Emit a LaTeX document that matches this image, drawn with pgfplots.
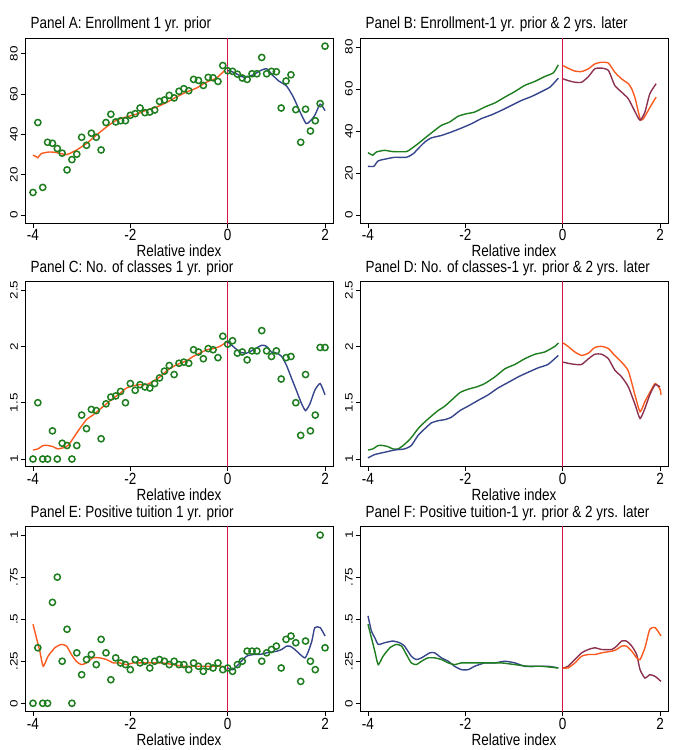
\documentclass[border=0pt]{standalone}
\usepackage{fontspec}
\setmainfont{Liberation Sans}
\usepackage{graphicx}
\usepackage{pgfplots}
\pgfplotsset{compat=1.18}
\usepackage{pgfplotstable}

\definecolor{scgreen}{RGB}{30,125,30}
\definecolor{scorange}{RGB}{250,90,30}
\definecolor{scnavy}{RGB}{55,70,140}
\definecolor{scmaroon}{RGB}{140,50,80}
\definecolor{cutline}{RGB}{215,20,70}

\newcommand{\lbl}{\fontsize{13.5}{16}\selectfont}
% Stata-like tall, narrow lettering
\newcommand{\hs}[1]{\scalebox{1}[1.2]{#1}}
\newcommand{\vs}[1]{\scalebox{1}[0.8]{#1}}

% ---------- binned means (circles) ----------
\pgfplotstableread{
x y
-4.0 11.2
-3.9 45.9
-3.8 13.7
-3.7 36.1
-3.6 35.6
-3.5 33.0
-3.4 30.7
-3.3 22.4
-3.2 27.5
-3.1 30.2
-3.0 38.6
-2.9 34.6
-2.8 40.6
-2.7 38.6
-2.6 32.3
-2.5 45.9
-2.4 50.0
-2.3 46.2
-2.2 46.8
-2.1 46.8
-2.0 49.5
-1.9 50.3
-1.8 53.1
-1.7 50.8
-1.6 51.1
-1.5 52.1
-1.4 56.4
-1.3 57.1
-1.2 59.4
-1.1 58.1
-1.0 61.4
-0.9 62.7
-0.8 61.7
-0.7 67.3
-0.6 66.8
-0.5 64.3
-0.4 68.3
-0.3 68.1
-0.2 66.3
-0.1 74.2
0.0 71.6
0.1 71.3
0.2 69.9
0.3 68.0
0.4 67.3
0.5 70.1
0.6 70.1
0.7 78.2
0.8 70.1
0.9 71.3
1.0 71.1
1.1 53.1
1.2 66.5
1.3 69.6
1.4 52.3
1.5 36.1
1.6 52.5
1.7 41.7
1.8 46.8
1.9 55.3
2.0 83.8
}\enrollpts

\pgfplotstableread{
x y
-4.0 1.00
-3.9 1.50
-3.8 1.00
-3.7 1.00
-3.6 1.25
-3.5 1.00
-3.4 1.14
-3.3 1.12
-3.2 1.00
-3.1 1.12
-3.0 1.39
-2.9 1.27
-2.8 1.44
-2.7 1.43
-2.6 1.18
-2.5 1.49
-2.4 1.55
-2.3 1.56
-2.2 1.60
-2.1 1.50
-2.0 1.67
-1.9 1.61
-1.8 1.66
-1.7 1.64
-1.6 1.63
-1.5 1.67
-1.4 1.72
-1.3 1.78
-1.2 1.83
-1.1 1.75
-1.0 1.85
-0.9 1.86
-0.8 1.85
-0.7 1.97
-0.6 1.95
-0.5 1.89
-0.4 1.98
-0.3 1.97
-0.2 1.90
-0.1 2.09
0.0 2.02
0.1 2.05
0.2 1.94
0.3 1.95
0.4 1.88
0.5 1.96
0.6 1.96
0.7 2.14
0.8 1.96
0.9 1.91
1.0 1.96
1.1 1.71
1.2 1.90
1.3 1.91
1.4 1.50
1.5 1.21
1.6 1.75
1.7 1.25
1.8 1.39
1.9 1.99
2.0 1.99
}\classpts

\pgfplotstableread{
x y
-4.0 0.00
-3.9 0.33
-3.8 0.00
-3.7 0.00
-3.6 0.60
-3.5 0.75
-3.4 0.25
-3.3 0.44
-3.2 0.00
-3.1 0.30
-3.0 0.17
-2.9 0.26
-2.8 0.29
-2.7 0.23
-2.6 0.38
-2.5 0.30
-2.4 0.14
-2.3 0.27
-2.2 0.24
-2.1 0.23
-2.0 0.20
-1.9 0.26
-1.8 0.24
-1.7 0.25
-1.6 0.21
-1.5 0.25
-1.4 0.26
-1.3 0.25
-1.2 0.23
-1.1 0.25
-1.0 0.23
-0.9 0.23
-0.8 0.20
-0.7 0.24
-0.6 0.22
-0.5 0.19
-0.4 0.22
-0.3 0.21
-0.2 0.24
-0.1 0.20
0.0 0.21
0.1 0.19
0.2 0.23
0.3 0.25
0.4 0.31
0.5 0.31
0.6 0.31
0.7 0.25
0.8 0.30
0.9 0.32
1.0 0.34
1.1 0.21
1.2 0.38
1.3 0.40
1.4 0.36
1.5 0.13
1.6 0.37
1.7 0.25
1.8 0.20
1.9 1.00
2.0 0.33
}\tuitpts

\pgfplotsset{
  panel/.style={
    scale only axis, width=308pt, height=185pt,
    xmin=-4.164, xmax=2.164,
    xtick={-4,-2,0,2}, xticklabels={\hs{-4},\hs{-2},\hs{0},\hs{2}},
    tick align=outside, xtick pos=left, ytick pos=left,
    major tick length=4.5pt,
    axis line style={black, line width=0.9pt},
    tick style={black, line width=0.8pt},
    every tick label/.append style={font=\lbl},
    xticklabel style={inner sep=1.5pt},
    yticklabel style={rotate=90, anchor=south, inner sep=2.5pt},
    xlabel={\hs{Relative index}},
    xlabel style={font=\lbl, yshift=1pt},
    title style={font=\lbl, at={(0,1)}, anchor=base west, xshift=2pt, yshift=3.5pt},
    clip=true,
  },
  pts/.style={only marks, mark=o, mark size=3.1pt, scgreen,
    mark options={line width=1.5pt}},
  fit/.style={no marks, line width=1.4pt, smooth, tension=0.35},
  cut/.style={no marks, cutline, line width=1.3pt},
  enrollax/.style={ymin=-4.1, ymax=87.7, ytick={0,20,40,60,80},
    yticklabels={\vs{0},\vs{20},\vs{40},\vs{60},\vs{80}}},
  enrollaxB/.style={ymin=-3.9, ymax=84.1, ytick={0,20,40,60,80},
    yticklabels={\vs{0},\vs{20},\vs{40},\vs{60},\vs{80}}},
  classax/.style={ymin=0.932, ymax=2.574, ytick={1,1.5,2,2.5},
    yticklabels={\vs{1},\vs{1.5},\vs{2},\vs{2.5}}},
  tuitax/.style={ymin=-0.05, ymax=1.05, ytick={0,0.25,0.5,0.75,1},
    yticklabels={\vs{0},\vs{.25},\vs{.5},\vs{.75},\vs{1}}},
}

\begin{document}
\begin{tikzpicture}
\useasboundingbox (0,0) rectangle (673pt,750pt);

% ===== Panel A =====
\begin{axis}[panel, enrollax, at={(25pt,526.7pt)}, anchor=south west,
  title={\hs{Panel A: Enrollment 1 yr. prior}}]
\addplot[cut] coordinates {(0,-10) (0,100)};
\addplot[pts] table {\enrollpts};
\addplot[fit, scorange] coordinates {
(-4.00,29.7) (-3.93,28.9) (-3.90,28.4) (-3.83,30.5) (-3.66,31.3) (-3.52,31.0)
(-3.31,30.0) (-3.11,32.2) (-2.90,35.5) (-2.70,39.6) (-2.49,43.7) (-2.29,47.0)
(-2.08,48.7) (-1.87,50.1) (-1.67,52.0) (-1.46,53.6) (-1.26,55.8) (-1.05,58.6)
(-0.85,61.0) (-0.64,63.0) (-0.43,66.0) (-0.23,68.0) (-0.06,71.8)};
\addplot[fit, scnavy] coordinates {
(0.00,71.8) (0.11,70.9) (0.25,69.2) (0.35,68.3) (0.53,69.6) (0.66,71.5)
(0.80,72.6) (0.92,69.5) (1.05,66.5) (1.21,64.0) (1.35,58.5) (1.49,51.0)
(1.61,45.4) (1.69,46.5) (1.79,49.5) (1.90,55.0) (2.00,51.8)};
\end{axis}

% ===== Panel B =====
\begin{axis}[panel, enrollaxB, at={(360pt,526.7pt)}, anchor=south west,
  title={\hs{Panel B: Enrollment-1 yr. prior \& 2 yrs. later}}]
\addplot[cut] coordinates {(0,-10) (0,100)};
\addplot[fit, scgreen] coordinates {
(-4.00,29.7) (-3.90,28.5) (-3.83,30.0) (-3.66,30.8) (-3.49,30.2) (-3.21,30.2)
(-3.11,31.6) (-2.97,34.0) (-2.80,37.2) (-2.63,40.3) (-2.49,42.7) (-2.32,44.3)
(-2.15,47.0) (-1.98,48.2) (-1.81,49.0) (-1.60,51.4) (-1.39,53.4) (-1.19,56.1)
(-0.98,58.8) (-0.78,61.7) (-0.57,63.6) (-0.37,65.9) (-0.19,67.7) (-0.09,71.5)};
\addplot[fit, scnavy] coordinates {
(-4.00,23.2) (-3.88,23.2) (-3.79,25.8) (-3.59,26.9) (-3.45,27.5) (-3.21,27.5)
(-3.07,29.2) (-2.97,31.6) (-2.83,34.8) (-2.70,36.7) (-2.49,37.9) (-2.29,39.5)
(-2.08,41.4) (-1.87,43.5) (-1.67,45.9) (-1.46,47.7) (-1.26,49.8) (-1.05,52.2)
(-0.85,54.5) (-0.64,56.4) (-0.43,58.8) (-0.26,60.9) (-0.09,65.1)};
\addplot[fit, scorange] coordinates {
(0.01,71.1) (0.11,69.9) (0.25,68.5) (0.39,68.3) (0.53,69.6) (0.66,71.9)
(0.80,72.7) (0.94,72.3) (1.07,68.0) (1.21,64.8) (1.35,62.5) (1.42,60.0)
(1.49,55.5) (1.55,49.5) (1.60,45.3) (1.66,45.9) (1.75,49.5) (1.85,53.5) (1.92,56.1)};
\addplot[fit, scmaroon] coordinates {
(0.01,64.8) (0.11,64.0) (0.25,63.2) (0.39,63.2) (0.53,65.9) (0.66,69.6)
(0.80,69.9) (0.94,68.8) (1.07,61.7) (1.21,58.5) (1.35,55.3) (1.49,49.0)
(1.59,45.1) (1.69,49.0) (1.79,57.7) (1.92,62.5)};
\end{axis}

% ===== Panel C =====
\begin{axis}[panel, classax, at={(25pt,283.3pt)}, anchor=south west,
  title={\hs{Panel C: No. of classes 1 yr. prior}}]
\addplot[cut] coordinates {(0,0) (0,3)};
\addplot[pts] table {\classpts};
\addplot[fit, scorange] coordinates {
(-4.00,1.08) (-3.90,1.09) (-3.79,1.12) (-3.69,1.12) (-3.59,1.11) (-3.49,1.09)
(-3.38,1.10) (-3.28,1.12) (-3.18,1.18) (-3.04,1.27) (-2.90,1.35) (-2.77,1.39)
(-2.63,1.44) (-2.49,1.49) (-2.35,1.54) (-2.22,1.58) (-2.08,1.63) (-1.94,1.65)
(-1.81,1.66) (-1.67,1.66) (-1.53,1.69) (-1.39,1.73) (-1.26,1.78) (-1.12,1.82)
(-0.98,1.85) (-0.85,1.87) (-0.71,1.91) (-0.57,1.94) (-0.43,1.97) (-0.30,1.98)
(-0.16,2.00) (-0.02,2.04)};
\addplot[fit, scnavy] coordinates {
(0.00,2.04) (0.11,2.00) (0.25,1.95) (0.39,1.94) (0.53,1.97) (0.70,2.01)
(0.80,2.00) (0.90,1.95) (1.01,1.94) (1.11,1.91) (1.21,1.83) (1.31,1.72)
(1.42,1.60) (1.52,1.49) (1.60,1.43) (1.69,1.49) (1.79,1.61) (1.90,1.67) (2.00,1.57)};
\end{axis}

% ===== Panel D =====
\begin{axis}[panel, classax, at={(360pt,283.3pt)}, anchor=south west,
  title={\hs{Panel D: No. of classes-1 yr. prior \& 2 yrs. later}}]
\addplot[cut] coordinates {(0,0) (0,3)};
\addplot[fit, scgreen] coordinates {
(-4.00,1.08) (-3.90,1.09) (-3.79,1.12) (-3.69,1.12) (-3.59,1.11) (-3.49,1.09)
(-3.38,1.09) (-3.25,1.13) (-3.11,1.19) (-2.97,1.27) (-2.83,1.33) (-2.70,1.38)
(-2.56,1.43) (-2.42,1.47) (-2.29,1.52) (-2.11,1.59) (-1.94,1.62) (-1.77,1.64)
(-1.60,1.67) (-1.39,1.73) (-1.19,1.80) (-0.98,1.84) (-0.78,1.89) (-0.57,1.93)
(-0.37,1.95) (-0.16,2.00) (-0.09,2.03)};
\addplot[fit, scnavy] coordinates {
(-4.00,1.01) (-3.86,1.04) (-3.66,1.06) (-3.45,1.08) (-3.25,1.09) (-3.11,1.12)
(-2.97,1.21) (-2.83,1.27) (-2.70,1.32) (-2.56,1.34) (-2.42,1.35) (-2.29,1.37)
(-2.11,1.43) (-1.94,1.47) (-1.74,1.52) (-1.53,1.57) (-1.33,1.63) (-1.12,1.68)
(-0.91,1.73) (-0.71,1.77) (-0.50,1.81) (-0.30,1.84) (-0.09,1.92)};
\addplot[fit, scorange] coordinates {
(0.01,2.03) (0.11,2.00) (0.25,1.95) (0.39,1.92) (0.53,1.94) (0.66,1.99)
(0.80,2.00) (0.94,1.98) (1.07,1.92) (1.21,1.86) (1.35,1.78) (1.49,1.56)
(1.59,1.42) (1.69,1.51) (1.79,1.59) (1.90,1.67) (2.00,1.62) (2.02,1.57)};
\addplot[fit, scmaroon] coordinates {
(0.01,1.86) (0.11,1.85) (0.25,1.84) (0.39,1.84) (0.53,1.89) (0.66,1.93)
(0.80,1.93) (0.94,1.89) (1.07,1.79) (1.21,1.73) (1.35,1.64) (1.49,1.48)
(1.59,1.36) (1.69,1.45) (1.79,1.57) (1.90,1.66) (2.00,1.64)};
\end{axis}

% ===== Panel E =====
\begin{axis}[panel, tuitax, at={(25pt,38.3pt)}, anchor=south west,
  title={\hs{Panel E: Positive tuition 1 yr. prior}}]
\addplot[cut] coordinates {(0,-1) (0,2)};
\addplot[pts] table {\tuitpts};
\addplot[fit, scorange] coordinates {
(-4.00,0.47) (-3.93,0.39) (-3.86,0.31) (-3.79,0.22) (-3.69,0.28) (-3.55,0.33)
(-3.42,0.35) (-3.31,0.34) (-3.21,0.29) (-3.11,0.25) (-3.01,0.23) (-2.90,0.24)
(-2.77,0.27) (-2.63,0.27) (-2.49,0.26) (-2.35,0.24) (-2.22,0.24) (-2.08,0.23)
(-1.94,0.24) (-1.74,0.24) (-1.53,0.24) (-1.33,0.24) (-1.12,0.23) (-0.91,0.22)
(-0.71,0.22) (-0.50,0.22) (-0.30,0.22) (-0.09,0.22)};
\addplot[fit, scnavy] coordinates {
(0.00,0.21) (0.11,0.20) (0.25,0.24) (0.39,0.28) (0.53,0.29) (0.66,0.29)
(0.80,0.30) (1.01,0.31) (1.11,0.32) (1.21,0.34) (1.28,0.34) (1.38,0.32)
(1.49,0.29) (1.59,0.27) (1.66,0.31) (1.73,0.37) (1.79,0.45) (1.90,0.45) (2.00,0.40)};
\end{axis}

% ===== Panel F =====
\begin{axis}[panel, tuitax, at={(360pt,38.3pt)}, anchor=south west,
  title={\hs{Panel F: Positive tuition-1 yr. prior \& 2 yrs. later}}]
\addplot[cut] coordinates {(0,-1) (0,2)};
\addplot[fit, scnavy] coordinates {
(-4.00,0.52) (-3.93,0.43) (-3.86,0.39) (-3.79,0.35) (-3.66,0.36) (-3.49,0.37)
(-3.35,0.36) (-3.25,0.34) (-3.11,0.28) (-3.01,0.26) (-2.90,0.27) (-2.73,0.30)
(-2.63,0.30) (-2.49,0.27) (-2.35,0.25) (-2.22,0.22) (-2.08,0.20) (-1.94,0.20)
(-1.81,0.22) (-1.60,0.24) (-1.39,0.24) (-1.19,0.25) (-0.98,0.24) (-0.78,0.22)
(-0.57,0.22) (-0.30,0.22) (-0.09,0.21)};
\addplot[fit, scgreen] coordinates {
(-4.00,0.47) (-3.93,0.39) (-3.86,0.31) (-3.79,0.23) (-3.69,0.28) (-3.55,0.33)
(-3.42,0.35) (-3.31,0.34) (-3.21,0.29) (-3.11,0.24) (-3.01,0.23) (-2.90,0.25)
(-2.77,0.27) (-2.63,0.27) (-2.49,0.26) (-2.35,0.24) (-2.22,0.23) (-2.08,0.24)
(-1.81,0.24) (-1.53,0.24) (-1.26,0.24) (-0.98,0.23) (-0.71,0.22) (-0.43,0.22)
(-0.09,0.21)};
\addplot[fit, scmaroon] coordinates {
(0.01,0.21) (0.11,0.22) (0.25,0.26) (0.39,0.30) (0.53,0.32) (0.66,0.33)
(0.80,0.32) (1.01,0.32) (1.11,0.34) (1.21,0.37) (1.31,0.37) (1.42,0.34)
(1.52,0.29) (1.59,0.20) (1.69,0.15) (1.79,0.17) (1.90,0.16) (2.02,0.13)};
\addplot[fit, scorange] coordinates {
(0.01,0.21) (0.11,0.21) (0.25,0.24) (0.39,0.28) (0.53,0.29) (0.66,0.29)
(0.80,0.30) (1.01,0.31) (1.11,0.32) (1.21,0.34) (1.31,0.34) (1.42,0.31)
(1.52,0.27) (1.59,0.26) (1.69,0.33) (1.79,0.44) (1.90,0.45) (2.02,0.40)};
\end{axis}
\end{tikzpicture}
\end{document}
